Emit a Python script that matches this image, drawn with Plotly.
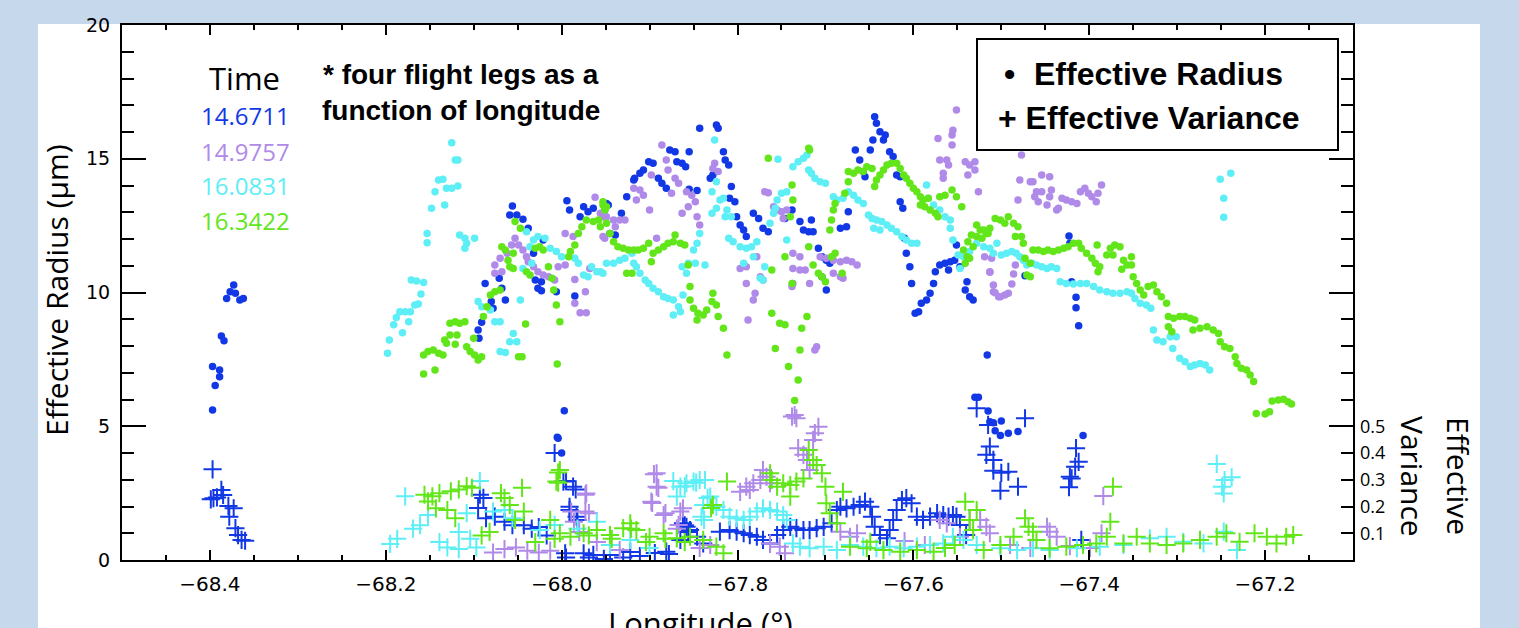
import plotly.graph_objects as go

# ---------------- data (longitude, value) ----------------
times = ["14.6711", "14.9757", "16.0831", "16.3422"]
colors = ["#1238e6", "#b08ae8", "#5eeef6", "#62e61a"]

blue_radius = [
    (-68.373, 10.28), (-68.377, 10.03), (-68.381, 9.78), (-68.371, 9.97), (-68.366, 9.72), (-68.362, 9.78),
    (-68.387, 8.37), (-68.384, 8.20), (-68.397, 7.23), (-68.389, 7.10), (-68.389, 6.85), (-68.394, 6.52), (-68.397, 5.61),
    (-68.056, 13.23), (-68.059, 12.90), (-68.051, 12.90), (-68.044, 12.74), (-68.038, 12.40), (-67.994, 13.43),
    (-67.991, 13.08), (-67.975, 13.21), (-67.970, 13.02), (-67.979, 12.83), (-67.964, 13.15), (-67.947, 13.27),
    (-68.021, 11.96), (-68.032, 11.47), (-68.071, 10.53), (-68.087, 10.34), (-68.068, 10.16), (-68.030, 10.47),
    (-68.023, 10.40), (-68.027, 10.16), (-68.023, 10.07), (-68.064, 9.72), (-67.985, 9.87), (-68.006, 10.03),
    (-68.080, 9.66), (-68.078, 9.41), (-68.091, 8.89), (-68.095, 8.60), (-68.094, 8.29), (-67.997, 5.58),
    (-68.005, 4.59), (-68.000, 4.00), (-68.004, 4.55),
    (-67.843, 16.14), (-67.824, 16.26), (-67.822, 16.14), (-67.877, 15.33), (-67.871, 15.26), (-67.855, 15.26),
    (-67.901, 14.89), (-67.896, 14.83), (-67.907, 14.58), (-67.911, 14.46), (-67.917, 14.27), (-67.918, 14.21),
    (-67.869, 14.89), (-67.863, 14.83), (-67.859, 14.70), (-67.890, 14.27), (-67.886, 14.08), (-67.881, 13.90),
    (-67.926, 13.58), (-67.932, 12.96), (-67.949, 13.33), (-67.951, 13.08), (-67.939, 12.15), (-67.945, 12.21),
    (-67.855, 13.86), (-67.846, 13.81), (-67.816, 15.26), (-67.814, 14.95), (-67.810, 14.77), (-67.831, 14.27),
    (-67.828, 14.39), (-67.807, 13.96), (-67.809, 13.52), (-67.803, 13.39), (-67.801, 12.83), (-67.797, 12.52),
    (-67.793, 12.34), (-67.790, 12.09), (-67.782, 12.96), (-67.776, 12.77), (-67.771, 12.40), (-67.765, 12.27),
    (-67.746, 12.77), (-67.738, 13.08), (-67.729, 12.65), (-67.725, 12.34), (-67.719, 12.27), (-67.714, 12.27),
    (-67.716, 12.71), (-67.708, 11.65), (-67.704, 11.34), (-67.699, 11.21), (-67.695, 11.09), (-67.704, 10.59),
    (-67.699, 10.09), (-67.683, 12.40), (-67.676, 12.46), (-67.674, 13.02), (-67.666, 15.33), (-67.661, 14.95),
    (-67.657, 14.52), (-67.655, 14.33), (-67.649, 15.33), (-67.644, 16.57), (-67.642, 16.33), (-67.638, 16.01),
    (-67.632, 15.89), (-67.634, 15.70), (-67.646, 15.70), (-67.627, 15.26), (-67.623, 15.08), (-67.619, 14.39),
    (-67.615, 14.33), (-67.615, 13.39), (-67.612, 13.15), (-67.610, 12.03), (-67.608, 11.47), (-67.604, 10.96),
    (-67.602, 10.34), (-67.598, 9.22), (-67.594, 9.28), (-67.591, 9.60), (-67.585, 9.72), (-67.581, 9.97),
    (-67.577, 10.34), (-67.575, 10.78), (-67.570, 11.03), (-67.564, 11.09), (-67.558, 11.15), (-67.553, 11.21),
    (-67.547, 10.96), (-67.560, 10.84), (-67.551, 11.78), (-67.539, 10.40), (-67.541, 10.09), (-67.536, 9.84),
    (-67.532, 9.72), (-67.423, 12.11), (-67.422, 11.84), (-67.473, 10.63), (-67.420, 10.40), (-67.415, 9.82),
    (-67.415, 9.43), (-67.412, 8.76), (-67.516, 7.66), (-67.530, 6.08), (-67.526, 6.08), (-67.515, 5.57),
    (-67.513, 5.17), (-67.509, 5.13), (-67.500, 5.20), (-67.507, 4.83), (-67.501, 4.65), (-67.492, 4.74),
    (-67.481, 4.80), (-67.407, 4.65),
]

blue_variance = [
    (-68.397, 0.339), (-68.396, 0.231), (-68.392, 0.234), (-68.387, 0.262), (-68.385, 0.243), (-68.379, 0.202),
    (-68.373, 0.193), (-68.378, 0.162), (-68.371, 0.119), (-68.368, 0.093), (-68.364, 0.075), (-68.360, 0.072),
    (-68.399, 0.227), (-68.093, 0.244), (-68.089, 0.232), (-68.095, 0.194), (-68.086, 0.156), (-68.076, 0.162),
    (-68.065, 0.143), (-68.056, 0.130), (-68.043, 0.130), (-68.034, 0.117), (-68.026, 0.123), (-68.017, 0.092),
    (-67.995, 0.009), (-67.969, 0.009), (-67.952, 0.004), (-67.930, 0.009), (-67.878, 0.022), (-67.860, 0.130),
    (-67.856, 0.105), (-68.008, 0.400), (-67.995, 0.295), (-67.984, 0.264), (-67.991, 0.187), (-67.982, 0.150),
    (-67.998, 0.293), (-67.987, 0.274), (-67.991, 0.199), (-67.983, 0.162), (-67.996, 0.025), (-67.975, 0.025),
    (-67.964, 0.019), (-67.945, 0.019), (-67.922, 0.030), (-67.911, 0.015), (-67.894, 0.026), (-67.881, 0.031),
    (-67.865, 0.075), (-67.862, 0.137), (-67.858, 0.124), (-67.854, 0.112), (-67.846, 0.087), (-67.839, 0.062),
    (-67.820, 0.106), (-67.809, 0.112), (-67.801, 0.106), (-67.793, 0.100), (-67.786, 0.093), (-67.778, 0.087),
    (-67.771, 0.075), (-67.763, 0.062), (-67.755, 0.093), (-67.748, 0.112), (-67.740, 0.124), (-67.733, 0.119),
    (-67.725, 0.112), (-67.718, 0.112), (-67.710, 0.119), (-67.702, 0.124), (-67.693, 0.137), (-67.687, 0.187),
    (-67.683, 0.199), (-67.676, 0.193), (-67.668, 0.199), (-67.661, 0.206), (-67.655, 0.218), (-67.649, 0.199),
    (-67.647, 0.162), (-67.644, 0.124), (-67.638, 0.093), (-67.630, 0.081), (-67.627, 0.112), (-67.623, 0.150),
    (-67.619, 0.187), (-67.613, 0.224), (-67.608, 0.231), (-67.602, 0.212), (-67.596, 0.162), (-67.589, 0.150),
    (-67.581, 0.162), (-67.573, 0.175), (-67.566, 0.168), (-67.560, 0.162), (-67.555, 0.168), (-67.551, 0.162),
    (-67.547, 0.131), (-67.540, 0.093), (-67.528, 0.567), (-67.515, 0.505), (-67.473, 0.530), (-67.513, 0.424),
    (-67.517, 0.393), (-67.509, 0.374), (-67.509, 0.334), (-67.500, 0.326), (-67.492, 0.330), (-67.501, 0.259),
    (-67.481, 0.274), (-67.415, 0.418), (-67.412, 0.367), (-67.416, 0.349), (-67.422, 0.311), (-67.420, 0.305),
    (-67.423, 0.272), (-67.409, 0.075),
]

purple_radius = [
    (-67.962, 13.56), (-67.956, 12.96), (-67.951, 12.03), (-67.996, 12.21), (-67.987, 12.09), (-68.053, 12.03),
    (-68.057, 11.78), (-68.049, 11.78), (-68.044, 11.59), (-68.062, 11.47), (-68.040, 11.34), (-68.038, 11.15),
    (-68.032, 10.96), (-68.027, 10.78), (-68.021, 10.65), (-68.015, 10.59), (-68.008, 10.47), (-68.070, 11.28),
    (-68.076, 11.03), (-68.068, 10.78), (-68.076, 10.72), (-68.004, 10.96), (-67.996, 11.03), (-67.968, 10.90),
    (-67.985, 10.49), (-67.973, 10.03), (-67.985, 9.60), (-67.979, 9.24), (-67.972, 9.24), (-67.953, 12.83),
    (-67.886, 15.51), (-67.881, 14.95), (-67.879, 14.58), (-67.898, 14.39), (-67.871, 14.27), (-67.867, 14.08),
    (-67.918, 13.90), (-67.911, 13.83), (-67.907, 13.64), (-67.915, 13.46), (-67.875, 13.71), (-67.858, 13.77),
    (-67.852, 13.64), (-67.900, 13.08), (-67.863, 12.96), (-67.856, 13.21), (-67.848, 13.39), (-67.949, 12.83),
    (-67.941, 12.71), (-67.934, 12.71), (-67.928, 12.71), (-67.939, 12.46), (-67.953, 12.09), (-67.892, 12.03),
    (-67.846, 12.83), (-67.843, 12.52), (-67.826, 14.83), (-67.822, 14.52), (-67.828, 14.64), (-67.797, 10.90),
    (-67.790, 10.96), (-67.778, 11.34), (-67.790, 10.34), (-67.780, 9.97), (-67.782, 9.72), (-67.788, 8.97),
    (-67.774, 10.59), (-67.771, 10.47), (-67.769, 13.77), (-67.765, 13.73), (-67.759, 13.21), (-67.755, 13.08),
    (-67.750, 13.02), (-67.744, 13.08), (-67.748, 12.77), (-67.737, 11.47), (-67.729, 11.34), (-67.737, 10.90),
    (-67.729, 10.84), (-67.723, 10.84), (-67.737, 10.34), (-67.738, 10.22), (-67.718, 10.34), (-67.706, 11.34),
    (-67.699, 11.28), (-67.691, 11.21), (-67.683, 11.15), (-67.676, 11.21), (-67.670, 11.15), (-67.664, 11.03),
    (-67.691, 10.72), (-67.683, 10.59), (-67.680, 10.53), (-67.710, 7.97), (-67.712, 7.85), (-67.551, 16.82),
    (-67.555, 16.07), (-67.556, 15.89), (-67.572, 15.76), (-67.556, 15.51), (-67.570, 14.95), (-67.562, 14.95),
    (-67.560, 14.77), (-67.566, 14.46), (-67.566, 14.27), (-67.541, 14.89), (-67.536, 14.77), (-67.530, 14.89),
    (-67.530, 14.58), (-67.538, 14.39), (-67.526, 13.77), (-67.511, 11.28), (-67.513, 10.78), (-67.509, 10.03),
    (-67.503, 9.84), (-67.477, 15.14), (-67.479, 14.21), (-67.467, 14.14), (-67.464, 14.14), (-67.454, 14.39),
    (-67.445, 14.33), (-67.460, 13.77), (-67.454, 13.77), (-67.443, 13.83), (-67.462, 13.58), (-67.458, 13.39),
    (-67.448, 13.27), (-67.445, 13.58), (-67.435, 13.15), (-67.437, 13.08), (-67.431, 13.52), (-67.426, 13.46),
    (-67.420, 13.39), (-67.414, 13.33), (-67.410, 13.77), (-67.405, 13.90), (-67.401, 13.71), (-67.397, 13.58),
    (-67.392, 13.39), (-67.390, 13.71), (-67.386, 14.02), (-67.481, 13.46), (-67.519, 11.34), (-67.484, 11.03),
    (-67.513, 10.76), (-67.486, 10.69), (-67.488, 10.32), (-67.509, 10.28), (-67.507, 9.99), (-67.501, 9.84),
    (-67.496, 9.91), (-67.492, 9.97),
]

purple_variance = [
    (-68.078, 0.028), (-68.065, 0.041), (-68.052, 0.047), (-68.039, 0.035), (-68.026, 0.028), (-68.013, 0.035),
    (-67.989, 0.181), (-67.973, 0.244), (-67.969, 0.175), (-67.986, 0.143), (-67.980, 0.105), (-67.960, 0.067),
    (-67.895, 0.321), (-67.890, 0.270), (-67.897, 0.213), (-67.884, 0.168), (-67.865, 0.181), (-67.869, 0.117),
    (-67.972, 0.249), (-67.973, 0.181), (-67.892, 0.324), (-67.892, 0.274), (-67.898, 0.218), (-67.882, 0.175),
    (-67.862, 0.193), (-67.867, 0.131), (-67.797, 0.255), (-67.790, 0.274), (-67.782, 0.287), (-67.774, 0.299),
    (-67.771, 0.336), (-67.767, 0.311), (-67.763, 0.287), (-67.786, 0.262), (-67.735, 0.542), (-67.733, 0.530),
    (-67.738, 0.536), (-67.731, 0.418), (-67.725, 0.393), (-67.721, 0.374), (-67.718, 0.336), (-67.714, 0.449),
    (-67.712, 0.474), (-67.708, 0.498), (-67.763, 0.062), (-67.752, 0.050), (-67.746, 0.025), (-67.683, 0.106),
    (-67.672, 0.087), (-67.664, 0.100), (-67.570, 0.150), (-67.562, 0.137), (-67.524, 0.150), (-67.517, 0.124),
    (-67.513, 0.100), (-67.448, 0.124), (-67.445, 0.106), (-67.437, 0.087), (-67.384, 0.239), (-67.386, 0.100),
    (-67.536, 0.150), (-67.547, 0.087), (-67.934, 0.037), (-67.843, 0.045), (-67.831, 0.056), (-67.490, 0.056),
    (-67.467, 0.045), (-67.422, 0.052), (-67.399, 0.045), (-67.610, 0.071), (-67.587, 0.056),
]

cyan_radius = [
    (-68.125, 15.60), (-68.121, 14.95), (-68.118, 14.95), (-68.140, 14.21), (-68.135, 14.23), (-68.131, 13.90),
    (-68.125, 13.90), (-68.118, 13.98), (-68.144, 13.77), (-68.148, 13.15), (-68.133, 13.27), (-68.153, 12.21),
    (-68.153, 11.86), (-68.116, 12.15), (-68.110, 12.03), (-68.099, 12.03), (-68.108, 11.84), (-68.110, 11.65),
    (-68.171, 10.47), (-68.165, 10.43), (-68.157, 10.37), (-68.160, 9.94), (-68.163, 9.57), (-68.167, 9.53),
    (-68.184, 9.28), (-68.178, 9.28), (-68.172, 9.28), (-68.188, 9.07), (-68.174, 8.91), (-68.191, 8.79),
    (-68.181, 8.50), (-68.196, 8.22), (-68.198, 7.73), (-68.040, 12.27), (-68.032, 11.96), (-68.027, 12.09),
    (-68.019, 12.03), (-68.036, 11.71), (-68.013, 11.65), (-68.006, 11.53), (-68.000, 11.34), (-68.044, 10.90),
    (-68.034, 11.09), (-67.985, 11.28), (-67.981, 11.09), (-67.975, 10.65), (-67.966, 10.96), (-67.960, 10.78),
    (-67.953, 10.72), (-67.949, 11.09), (-67.970, 10.59), (-68.047, 9.72), (-68.095, 9.66), (-68.091, 9.47),
    (-68.081, 9.35), (-68.076, 8.91), (-68.070, 8.91), (-68.055, 8.47), (-68.059, 8.16), (-68.051, 8.16),
    (-68.070, 7.79), (-68.064, 7.76), (-67.826, 15.70), (-67.824, 14.14), (-67.829, 13.77), (-67.820, 13.46),
    (-67.816, 13.52), (-67.824, 13.15), (-67.829, 12.96), (-67.812, 13.08), (-67.814, 12.83), (-67.807, 12.83),
    (-67.843, 12.21), (-67.846, 11.84), (-67.850, 11.59), (-67.856, 11.09), (-67.848, 11.09), (-67.837, 11.03),
    (-67.858, 10.72), (-67.863, 10.96), (-67.956, 10.78), (-67.941, 11.09), (-67.934, 11.21), (-67.928, 11.28),
    (-67.920, 11.47), (-67.918, 11.09), (-67.915, 10.96), (-67.911, 10.72), (-67.905, 10.47), (-67.901, 10.34),
    (-67.896, 10.16), (-67.890, 10.03), (-67.884, 9.84), (-67.879, 9.78), (-67.873, 9.72), (-67.867, 9.47),
    (-67.873, 9.16), (-67.865, 9.28), (-67.862, 9.91), (-67.810, 12.03), (-67.805, 11.90), (-67.797, 11.71),
    (-67.790, 11.65), (-67.784, 11.71), (-67.778, 11.90), (-67.793, 11.09), (-67.782, 11.34), (-67.769, 10.96),
    (-67.774, 10.53), (-67.771, 10.47), (-67.757, 13.15), (-67.755, 13.46), (-67.750, 13.71), (-67.744, 13.77),
    (-67.759, 12.96), (-67.763, 12.59), (-67.744, 11.96), (-67.754, 14.98), (-67.737, 14.70), (-67.731, 14.89),
    (-67.725, 15.02), (-67.721, 15.14), (-67.719, 14.58), (-67.716, 14.46), (-67.712, 14.27), (-67.706, 14.14),
    (-67.700, 14.08), (-67.691, 13.58), (-67.687, 13.46), (-67.680, 13.52), (-67.674, 13.77), (-67.668, 13.64),
    (-67.663, 13.46), (-67.657, 13.33), (-67.651, 12.90), (-67.647, 12.77), (-67.642, 12.71), (-67.636, 12.65),
    (-67.630, 12.52), (-67.625, 12.40), (-67.619, 12.27), (-67.613, 12.09), (-67.608, 11.96), (-67.602, 11.84),
    (-67.596, 11.84), (-67.645, 12.40), (-67.638, 12.34), (-67.585, 14.02), (-67.583, 13.52), (-67.577, 13.27),
    (-67.570, 13.08), (-67.564, 12.83), (-67.558, 12.71), (-67.558, 12.40), (-67.555, 11.96), (-67.549, 11.40),
    (-67.543, 11.34), (-67.536, 11.53), (-67.547, 10.90), (-67.528, 11.84), (-67.520, 11.71), (-67.513, 11.65),
    (-67.505, 11.84), (-67.509, 11.47), (-67.500, 11.40), (-67.494, 11.47), (-67.488, 11.53), (-67.483, 11.47),
    (-67.479, 11.34), (-67.475, 11.21), (-67.471, 11.03), (-67.465, 11.09), (-67.460, 11.03), (-67.454, 10.96),
    (-67.448, 10.90), (-67.443, 10.96), (-67.437, 10.90), (-67.433, 10.40), (-67.426, 10.34), (-67.418, 10.32),
    (-67.410, 10.34), (-67.403, 10.34), (-67.395, 10.22), (-67.388, 10.09), (-67.380, 10.03), (-67.373, 9.97),
    (-67.365, 9.97), (-67.357, 10.03), (-67.352, 9.97), (-67.348, 9.78), (-67.342, 9.60), (-67.335, 9.53),
    (-67.330, 9.41), (-67.327, 8.60), (-67.323, 8.22), (-67.316, 8.16), (-67.308, 8.35), (-67.301, 8.35),
    (-67.305, 7.91), (-67.297, 7.54), (-67.291, 7.41), (-67.285, 7.23), (-67.280, 7.29), (-67.274, 7.35),
    (-67.268, 7.29), (-67.263, 7.10), (-67.251, 14.23), (-67.239, 14.46), (-67.247, 13.52), (-67.247, 12.81),
]

cyan_variance = [
    (-68.178, 0.238), (-68.195, 0.060), (-68.187, 0.079), (-68.169, 0.117), (-68.161, 0.130), (-68.152, 0.168),
    (-68.139, 0.067), (-68.130, 0.047), (-68.117, 0.041), (-68.117, 0.105), (-68.104, 0.079), (-68.097, 0.047),
    (-68.093, 0.295), (-68.108, 0.175), (-68.078, 0.181), (-68.065, 0.187), (-68.056, 0.156), (-67.982, 0.117),
    (-67.960, 0.143), (-67.873, 0.295), (-67.860, 0.276), (-67.847, 0.289), (-67.834, 0.232), (-67.838, 0.150),
    (-67.865, 0.274), (-67.858, 0.287), (-67.850, 0.293), (-67.843, 0.299), (-67.837, 0.299), (-67.869, 0.237),
    (-67.839, 0.206), (-67.831, 0.237), (-67.824, 0.199), (-67.816, 0.187), (-67.841, 0.162), (-67.809, 0.162),
    (-67.801, 0.156), (-67.793, 0.150), (-67.786, 0.162), (-67.778, 0.181), (-67.771, 0.193), (-67.763, 0.187),
    (-67.755, 0.181), (-67.748, 0.168), (-67.744, 0.150), (-67.737, 0.062), (-67.729, 0.050), (-67.718, 0.044),
    (-67.702, 0.050), (-67.687, 0.037), (-67.672, 0.056), (-67.657, 0.050), (-67.642, 0.044), (-67.627, 0.050),
    (-67.611, 0.044), (-67.596, 0.050), (-67.581, 0.056), (-67.566, 0.062), (-67.555, 0.087), (-67.543, 0.075),
    (-67.528, 0.056), (-67.501, 0.044), (-67.482, 0.037), (-67.464, 0.044), (-67.445, 0.037), (-67.414, 0.044),
    (-67.388, 0.050), (-67.361, 0.056), (-67.331, 0.081), (-67.312, 0.087), (-67.293, 0.068), (-67.270, 0.062),
    (-67.247, 0.106), (-67.232, 0.037), (-67.255, 0.359), (-67.246, 0.299), (-67.238, 0.309), (-67.249, 0.274),
    (-67.247, 0.249), (-67.945, 0.056), (-67.922, 0.075), (-67.900, 0.045), (-68.025, 0.112), (-68.008, 0.131),
]

green_radius = [
    (-68.157, 6.95), (-68.144, 7.10), (-68.157, 7.66), (-68.152, 7.79), (-68.146, 7.85), (-68.140, 7.73),
    (-68.135, 7.66), (-68.133, 8.22), (-68.127, 8.41), (-68.119, 8.41), (-68.127, 8.85), (-68.121, 8.91),
    (-68.116, 8.85), (-68.110, 8.91), (-68.131, 8.10), (-68.121, 8.07), (-68.108, 7.97), (-68.104, 7.79),
    (-68.099, 7.66), (-68.095, 7.48), (-68.091, 7.60), (-68.100, 8.29), (-68.089, 9.10), (-68.085, 9.47),
    (-68.081, 9.91), (-68.076, 10.03), (-68.070, 10.09), (-68.068, 11.71), (-68.064, 11.59), (-68.061, 11.21),
    (-68.059, 10.96), (-68.055, 10.90), (-68.053, 12.65), (-68.047, 12.40), (-68.055, 11.47), (-68.040, 10.78),
    (-68.036, 10.65), (-68.030, 11.65), (-68.025, 11.71), (-68.021, 11.59), (-68.015, 10.96), (-68.011, 10.53),
    (-68.009, 10.09), (-68.006, 9.53), (-68.002, 8.91), (-68.041, 8.82), (-68.049, 7.60), (-68.045, 7.60),
    (-68.005, 7.33), (-67.992, 11.34), (-67.990, 11.53), (-67.985, 11.78), (-67.981, 12.21), (-67.977, 12.46),
    (-67.972, 12.71), (-67.964, 12.65), (-67.958, 12.71), (-67.953, 13.27), (-67.949, 13.21), (-67.956, 12.46),
    (-67.953, 13.39), (-67.951, 13.08), (-67.949, 12.59), (-67.945, 12.21), (-67.941, 11.90), (-67.936, 11.71),
    (-67.930, 11.65), (-67.924, 11.59), (-67.918, 11.59), (-67.913, 11.59), (-67.907, 11.65), (-67.901, 11.84),
    (-67.896, 11.47), (-67.890, 11.59), (-67.884, 11.71), (-67.879, 11.84), (-67.873, 11.90), (-67.865, 11.84),
    (-67.860, 11.78), (-67.871, 12.15), (-67.898, 11.15), (-67.926, 10.72), (-67.920, 10.72), (-67.856, 11.03),
    (-67.854, 10.22), (-67.854, 9.72), (-67.850, 9.41), (-67.845, 9.22), (-67.839, 9.16), (-67.835, 9.35),
    (-67.829, 9.66), (-67.828, 9.97), (-67.824, 9.53), (-67.822, 9.10), (-67.816, 8.66), (-67.812, 7.66),
    (-67.846, 8.97), (-67.765, 15.02), (-67.761, 10.84), (-67.746, 11.34), (-67.738, 10.34), (-67.761, 9.22),
    (-67.752, 8.85), (-67.746, 8.79), (-67.757, 7.91), (-67.729, 7.85), (-67.727, 8.66), (-67.721, 9.10),
    (-67.742, 7.23), (-67.731, 6.73), (-67.735, 5.96), (-67.740, 12.83), (-67.738, 14.02), (-67.737, 13.46),
    (-67.719, 15.39), (-67.718, 15.33), (-67.719, 11.71), (-67.714, 11.03), (-67.708, 10.72), (-67.704, 10.59),
    (-67.700, 10.40), (-67.693, 11.34), (-67.689, 11.47), (-67.681, 10.72), (-67.695, 12.34), (-67.693, 12.71),
    (-67.691, 13.08), (-67.689, 13.33), (-67.678, 13.71), (-67.674, 14.14), (-67.674, 14.52), (-67.668, 14.46),
    (-67.663, 14.58), (-67.657, 14.52), (-67.653, 14.70), (-67.647, 14.64), (-67.642, 14.21), (-67.644, 13.96),
    (-67.638, 14.39), (-67.634, 14.58), (-67.630, 14.77), (-67.625, 14.83), (-67.619, 14.83), (-67.615, 14.64),
    (-67.611, 14.39), (-67.608, 14.27), (-67.604, 14.08), (-67.600, 13.90), (-67.596, 13.77), (-67.592, 13.58),
    (-67.589, 13.46), (-67.592, 13.27), (-67.587, 13.21), (-67.581, 13.08), (-67.575, 12.96), (-67.572, 12.83),
    (-67.570, 13.58), (-67.564, 13.64), (-67.556, 13.83), (-67.551, 13.58), (-67.545, 13.21), (-67.583, 13.52),
    (-67.538, 11.90), (-67.534, 12.15), (-67.528, 12.52), (-67.524, 12.34), (-67.517, 12.21), (-67.513, 12.40),
    (-67.507, 12.77), (-67.543, 11.59), (-67.539, 11.34), (-67.541, 11.09), (-67.536, 11.28), (-67.528, 12.09),
    (-67.532, 11.71), (-67.501, 12.71), (-67.496, 12.59), (-67.492, 12.83), (-67.486, 12.59), (-67.481, 12.46),
    (-67.484, 12.09), (-67.477, 12.09), (-67.475, 11.84), (-67.520, 12.34), (-67.515, 12.21), (-67.522, 12.03),
    (-67.473, 11.28), (-67.467, 11.09), (-67.471, 10.65), (-67.467, 10.59), (-67.464, 11.59), (-67.458, 11.59),
    (-67.452, 11.53), (-67.447, 11.59), (-67.441, 11.53), (-67.435, 11.59), (-67.429, 11.65), (-67.424, 11.71),
    (-67.418, 11.84), (-67.412, 11.84), (-67.409, 11.65), (-67.403, 11.47), (-67.397, 11.28), (-67.393, 11.09),
    (-67.391, 11.78), (-67.388, 10.96), (-67.390, 10.78), (-67.380, 11.40), (-67.376, 11.65), (-67.371, 11.78),
    (-67.365, 11.71), (-67.373, 11.40), (-67.361, 11.21), (-67.352, 11.34), (-67.357, 11.03), (-67.352, 11.03),
    (-67.363, 10.87), (-67.350, 10.59), (-67.346, 10.34), (-67.342, 10.09), (-67.338, 9.91), (-67.333, 10.22),
    (-67.327, 10.28), (-67.323, 10.03), (-67.318, 9.84), (-67.312, 9.60), (-67.310, 9.10), (-67.304, 9.04),
    (-67.297, 9.10), (-67.291, 9.10), (-67.285, 9.04), (-67.280, 8.97), (-67.310, 8.72), (-67.306, 8.53),
    (-67.282, 8.60), (-67.274, 8.66), (-67.266, 8.72), (-67.259, 8.60), (-67.253, 8.47), (-67.251, 8.16),
    (-67.246, 7.97), (-67.240, 7.91), (-67.234, 7.60), (-67.232, 7.35), (-67.227, 7.17), (-67.221, 7.10),
    (-67.217, 6.92), (-67.213, 6.67), (-67.210, 5.48), (-67.200, 5.46), (-67.195, 5.54), (-67.192, 5.94),
    (-67.185, 5.98), (-67.179, 6.01), (-67.174, 5.92), (-67.170, 5.83),
]

green_variance = [
    (-68.156, 0.244), (-68.147, 0.238), (-68.139, 0.250), (-68.126, 0.257), (-68.117, 0.264), (-68.108, 0.276),
    (-68.102, 0.270), (-68.143, 0.193), (-68.130, 0.187), (-68.121, 0.156), (-68.152, 0.219), (-68.091, 0.092),
    (-68.082, 0.105), (-68.069, 0.250), (-68.065, 0.232), (-68.045, 0.270), (-68.043, 0.181), (-68.004, 0.327),
    (-68.004, 0.289), (-68.030, 0.067), (-68.008, 0.079), (-67.969, 0.092), (-67.943, 0.079), (-67.921, 0.117),
    (-67.904, 0.067), (-67.882, 0.079), (-67.860, 0.067), (-67.830, 0.194), (-68.002, 0.336), (-68.006, 0.293),
    (-67.812, 0.293), (-67.828, 0.206), (-67.763, 0.324), (-67.761, 0.299), (-67.755, 0.274), (-67.748, 0.287),
    (-67.740, 0.280), (-67.733, 0.293), (-67.725, 0.305), (-67.719, 0.411), (-67.714, 0.374), (-67.710, 0.355),
    (-67.704, 0.324), (-67.700, 0.274), (-67.699, 0.212), (-67.695, 0.175), (-67.687, 0.137), (-67.680, 0.255),
    (-67.740, 0.237), (-67.672, 0.050), (-67.653, 0.044), (-67.634, 0.037), (-67.615, 0.031), (-67.596, 0.037),
    (-67.577, 0.031), (-67.649, 0.068), (-68.013, 0.150), (-68.002, 0.100), (-67.990, 0.087), (-67.975, 0.100),
    (-67.960, 0.112), (-67.945, 0.093), (-67.930, 0.119), (-67.922, 0.137), (-67.915, 0.112), (-67.900, 0.087),
    (-67.884, 0.100), (-67.869, 0.081), (-67.854, 0.087), (-67.839, 0.075), (-67.824, 0.050), (-67.816, 0.025),
    (-67.541, 0.218), (-67.528, 0.187), (-67.536, 0.150), (-67.532, 0.112), (-67.520, 0.037), (-67.501, 0.056),
    (-67.486, 0.087), (-67.473, 0.156), (-67.469, 0.124), (-67.464, 0.106), (-67.460, 0.075), (-67.445, 0.044),
    (-67.426, 0.050), (-67.407, 0.056), (-67.392, 0.062), (-67.373, 0.274), (-67.376, 0.143), (-67.380, 0.087),
    (-67.361, 0.062), (-67.346, 0.087), (-67.331, 0.062), (-67.312, 0.056), (-67.293, 0.062), (-67.274, 0.075),
    (-67.255, 0.087), (-67.244, 0.100), (-67.229, 0.068), (-67.212, 0.100), (-67.198, 0.087), (-67.187, 0.062),
    (-67.176, 0.087), (-67.168, 0.093), (-67.564, 0.045), (-67.553, 0.056), (-68.059, 0.206), (-68.053, 0.150),
]

series = [
    (times[0], colors[0], blue_radius, blue_variance),
    (times[1], colors[1], purple_radius, purple_variance),
    (times[2], colors[2], cyan_radius, cyan_variance),
    (times[3], colors[3], green_radius, green_variance),
]

# ---------------- layout geometry ----------------
W, H = 1519, 628
L, R, T, B = 122, 1353, 25, 560


def pxx(x):
    return (x - L) / (R - L)


def pxy(y):
    return (B - y) / (B - T)


fig = go.Figure()
for name, col, rad, var in series:
    fig.add_trace(go.Scatter(
        x=[p[0] for p in rad], y=[p[1] for p in rad], mode="markers", name=name,
        marker=dict(symbol="circle", size=7.5, color=col, line=dict(width=0)),
        showlegend=False, hoverinfo="skip"))
    fig.add_trace(go.Scatter(
        x=[p[0] for p in var], y=[p[1] for p in var], mode="markers", name=name, yaxis="y2",
        marker=dict(symbol="cross-thin", size=13, color=col, line=dict(width=2, color=col)),
        showlegend=False, hoverinfo="skip"))

tickfont = dict(family="DejaVu Sans", size=20, color="black")
fig.update_layout(
    template="none",
    width=W, height=H,
    margin=dict(l=L, r=W - R, t=T, b=H - B, pad=0),
    paper_bgcolor="#c5d8ec",
    plot_bgcolor="white",
    showlegend=False,
    xaxis=dict(
        range=[-68.5, -67.1], tick0=-68.4, dtick=0.2, tickformat=".1f",
        ticks="inside", ticklen=10, tickwidth=2, tickcolor="black",
        showline=True, linecolor="black", linewidth=2, mirror="ticks",
        showgrid=False, zeroline=False, tickfont=tickfont, ticklabelstandoff=5,
        minor=dict(tick0=-68.5, dtick=0.05, ticks="inside", ticklen=5, tickwidth=1.5,
                   tickcolor="black", showgrid=False),
    ),
    yaxis=dict(
        range=[0, 20], tick0=0, dtick=5,
        ticks="inside", ticklen=24, tickwidth=2, tickcolor="black",
        showline=True, linecolor="black", linewidth=2, mirror="ticks",
        showgrid=False, zeroline=False, tickfont=dict(family="DejaVu Sans", size=19, color="black"),
        ticklabelstandoff=6,
        minor=dict(tick0=0, dtick=1, ticks="inside", ticklen=12, tickwidth=1.5,
                   tickcolor="black", showgrid=False),
    ),
    yaxis2=dict(
        overlaying="y", side="right", range=[0, 2],
        tickmode="array", tickvals=[0.1, 0.2, 0.3, 0.4, 0.5],
        ticktext=["0.1", "0.2", "0.3", "0.4", "0.5"],
        ticks="", showline=False, showgrid=False, zeroline=False,
        tickfont=dict(family="Open Sans", size=18, color="black"), ticklabelstandoff=6,
    ),
)

# white panel behind the chart
fig.add_shape(type="rect", xref="paper", yref="paper",
              x0=pxx(38), x1=pxx(1480), y0=pxy(660), y1=pxy(24),
              fillcolor="white", line=dict(width=0), layer="below")
# legend box
fig.add_shape(type="rect", xref="paper", yref="paper",
              x0=pxx(977), x1=pxx(1338), y0=pxy(150), y1=pxy(39),
              fillcolor="white", line=dict(width=2, color="black"), layer="above")


def ann(text, x, y, family, size, color="black", xanchor="center", angle=0):
    return dict(text=text, x=pxx(x), y=pxy(y), xref="paper", yref="paper",
                showarrow=False, xanchor=xanchor, yanchor="middle", textangle=angle,
                font=dict(family=family, size=size, color=color))


annos = [
    ann("Time", 244, 78, "Open Sans", 31),
    ann("<b>* four flight legs as a</b>", 321, 74, "Liberation Sans", 28, xanchor="left"),
    ann("<b>function of longitude</b>", 320, 110, "Liberation Sans", 28, xanchor="left"),
    ann("<b>•</b>", 1009, 74, "Liberation Sans", 32),
    ann("<b>Effective Radius</b>", 1032, 74, "Liberation Sans", 32, xanchor="left"),
    ann("<b>+ Effective Variance</b>", 996, 118, "Liberation Sans", 32, xanchor="left"),
    ann("Variance", 1413, 476, "Open Sans", 30, angle=90),
    ann("Effective", 1459, 476, "Open Sans", 30, angle=90),
    ann("Effective Radius (µm)", 56, 290, "Open Sans", 30, angle=-90),
    ann("Longitude (°)", 700, 623, "Open Sans", 31),
]
for t, c, yy in zip(times, colors, [115, 151, 186, 221]):
    annos.append(ann(t, 245, yy, "Open Sans", 24, color=c))
fig.update_layout(annotations=annos)

fig.write_html("out.html")
